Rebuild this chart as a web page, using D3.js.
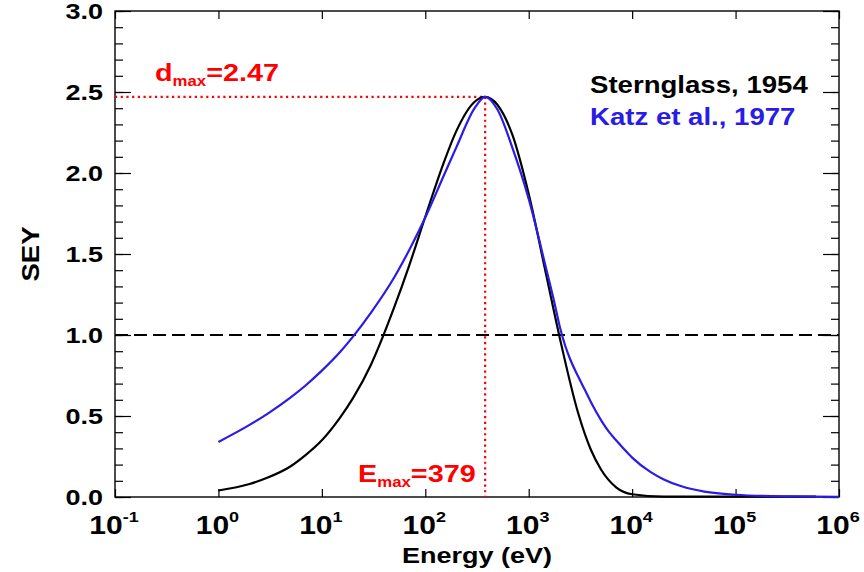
<!DOCTYPE html>
<html><head><meta charset="utf-8">
<script src="https://cdn.jsdelivr.net/npm/d3@7"></script>
<style>body{margin:0;background:#fff}svg{display:block}text{font-family:"Liberation Sans",Arial,Helvetica,sans-serif;font-weight:bold}</style>
</head><body><svg id="c" width="864" height="572"></svg>
<script>
// ---- data ----
const sternEnergy = [1,2,3,5,7,10,15,20,30,50,70,100,150,200,300,379,500,700,1000,1500,2000,3000,4000,5000,7000,10000,20000,100000,600000];
const sternSEY    = [0.04,0.08,0.12,0.19,0.26,0.35,0.49,0.61,0.82,1.17,1.43,1.73,2.06,2.26,2.44,2.47,2.42,2.23,1.87,1.35,0.98,0.52,0.29,0.17,0.06,0.017,0.002,0.002,0.002];
const katzEnergy  = [1,2,3,5,7,10,15,20,30,50,70,100,150,200,300,379,500,700,1000,1500,1750,2000,2250,2500,3000,3500,4000,5000,6000,7000,8500,10000,15000,20000,30000,50000,100000,300000,1000000];
const katzSEY     = [0.34,0.445,0.515,0.615,0.69,0.78,0.895,0.99,1.14,1.355,1.525,1.725,1.98,2.16,2.40,2.47,2.39,2.15,1.84,1.39,1.215,1.05,0.935,0.855,0.745,0.66,0.585,0.475,0.40,0.35,0.29,0.243,0.155,0.11,0.066,0.033,0.014,0.004,0.001];
const xTickExponents = [-1,0,1,2,3,4,5,6];
const yTickValues = [0,0.5,1,1.5,2,2.5,3];
const yTickLabels = ["0.0","0.5","1.0","1.5","2.0","2.5","3.0"];
const yMinorValues = d3.range(0,3.001,0.1);
const dMax = 2.47, eMax = 379, unityLine = 1.0;
const seriesNames = ["Sternglass, 1954","Katz et al., 1977"];
const seriesColors = ["#000000","#2a1ce6"];

// ---- layout ----
const svg = d3.select("#c");
const L=115, R=839, T=11, B=497;
const x = d3.scaleLog().domain([0.1,1e6]).range([L,R]);
const y = d3.scaleLinear().domain([0,3]).range([B,T]);
const SX = 1.2;

function stretchedText(px, py, anchor, parts, color){
  const g = svg.append("g").attr("transform",`translate(${px},${py}) scale(${SX},1)`);
  const t = g.append("text").attr("text-anchor",anchor).attr("fill",color);
  parts.forEach(p=>{
    t.append("tspan").attr("font-size",p.s).attr("dy",p.dy||0).text(p.t);
  });
  return t;
}

// axes ticks
function styleAxis(g){ g.select(".domain").remove(); g.selectAll("line").attr("stroke","#000").attr("stroke-width",1.2); g.selectAll("text").remove(); }
const xt = xTickExponents.map(e=>Math.pow(10,e));
svg.append("g").attr("transform",`translate(0,${B})`).call(d3.axisBottom(x).tickValues(xt).tickSize(-8)).call(styleAxis);
svg.append("g").attr("transform",`translate(0,${T})`).call(d3.axisTop(x).tickValues(xt).tickSize(-8)).call(styleAxis);
svg.append("g").attr("transform",`translate(${L},0)`).call(d3.axisLeft(y).tickValues(yMinorValues).tickSize(-8)).call(styleAxis);
svg.append("g").attr("transform",`translate(${L},0)`).call(d3.axisLeft(y).tickValues(yTickValues).tickSize(-16)).call(styleAxis);
svg.append("g").attr("transform",`translate(${R},0)`).call(d3.axisRight(y).tickValues(yMinorValues).tickSize(-8)).call(styleAxis);
svg.append("g").attr("transform",`translate(${R},0)`).call(d3.axisRight(y).tickValues(yTickValues).tickSize(-16)).call(styleAxis);

// frame
svg.append("rect").attr("x",L).attr("y",T).attr("width",R-L).attr("height",B-T).attr("fill","none").attr("stroke","#000").attr("stroke-width",1.4);

// y tick labels
yTickValues.forEach((v,i)=>{ stretchedText(103, y(v)+8, "end", [{t:yTickLabels[i], s:22.5}], "#000"); });
// x tick labels
xTickExponents.forEach(e=>{ stretchedText(x(Math.pow(10,e))-1, 534, "middle", [{t:"10",s:25},{t:String(e),s:15,dy:-12}], "#000"); });
// axis titles
stretchedText((L+R)/2, 563, "middle", [{t:"Energy (eV)", s:22.5}], "#000");
svg.append("g").attr("transform",`translate(39,${(T+B)/2}) rotate(-90) scale(${SX},1)`)
  .append("text").attr("text-anchor","middle").attr("font-size",23).text("SEY");

// reference lines
svg.append("line").attr("x1",L).attr("x2",R).attr("y1",y(unityLine)).attr("y2",y(unityLine))
  .attr("stroke","#000").attr("stroke-width",2).attr("stroke-dasharray","13,6");
svg.append("line").attr("x1",L).attr("x2",x(eMax)).attr("y1",y(dMax)).attr("y2",y(dMax))
  .attr("stroke","#ff0000").attr("stroke-width",2.2).attr("stroke-dasharray","2.2,3.5");
svg.append("line").attr("x1",x(eMax)).attr("x2",x(eMax)).attr("y1",y(dMax)).attr("y2",B)
  .attr("stroke","#ff0000").attr("stroke-width",2.2).attr("stroke-dasharray","2.2,3.5");

// curves
const line = d3.line().x(d=>x(d[0])).y(d=>y(d[1])).curve(d3.curveMonotoneX);
svg.append("path").datum(sternEnergy.map((e,i)=>[e,sternSEY[i]])).attr("d",line)
  .attr("fill","none").attr("stroke",seriesColors[0]).attr("stroke-width",2.2);
svg.append("path").datum(katzEnergy.map((e,i)=>[e,katzSEY[i]])).attr("d",line)
  .attr("fill","none").attr("stroke",seriesColors[1]).attr("stroke-width",2.2);

// annotations
stretchedText(155, 81, "start", [{t:"d",s:24},{t:"max",s:14,dy:5},{t:"=2.47",s:24,dy:-5}], "#ff0000");
stretchedText(358, 482, "start", [{t:"E",s:24},{t:"max",s:14,dy:5},{t:"=379",s:24,dy:-5}], "#ff0000");
// legend
stretchedText(590, 93, "start", [{t:seriesNames[0], s:23}], seriesColors[0]);
stretchedText(590, 125, "start", [{t:seriesNames[1], s:23}], seriesColors[1]);
</script></body></html>
